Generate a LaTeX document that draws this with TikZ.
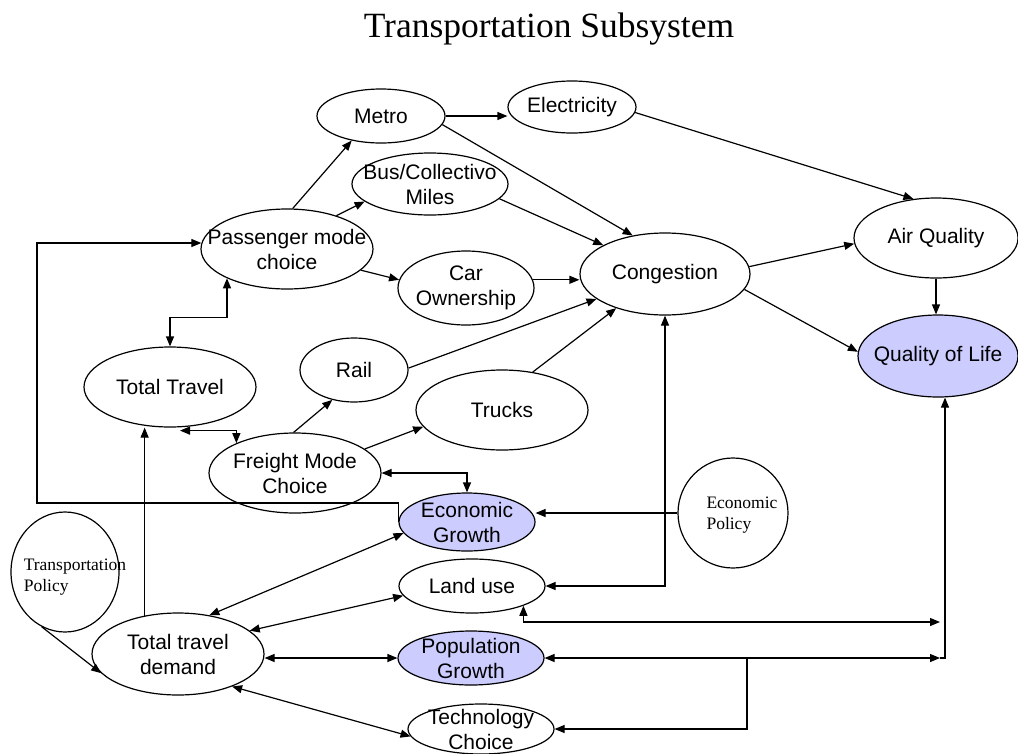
\documentclass[tikz,border=0pt]{standalone}
\usepackage{fontspec}
\setmainfont{Liberation Serif}
\setsansfont{Liberation Sans}
\usetikzlibrary{shapes.geometric,arrows.meta,calc}
\definecolor{lav}{HTML}{CCCCFF}
\tikzset{
  bub/.style 2 args={ellipse, draw, line width=1.2pt, inner sep=0pt, minimum width=#1, minimum height=#2},
  txt/.style={font=\sffamily\fontsize{21}{25}\selectfont, align=center, inner sep=0pt},
  ptxt/.style={font=\rmfamily\fontsize{17.5}{21}\selectfont, align=left, inner sep=0pt},
  arr/.style={draw, line width=1.2pt, -{Triangle[length=10pt,width=8pt]}},
  dbl/.style={draw, line width=1.2pt, {Triangle[length=10pt,width=8pt]}-{Triangle[length=10pt,width=8pt]}},
}
\begin{document}
\begin{tikzpicture}[x=1pt,y=-1pt]
\useasboundingbox (0,0) rectangle (1018,753);
\node[font=\rmfamily\fontsize{35.5}{40}\selectfont, anchor=base, inner sep=0pt] (title) at (549,37) {Transportation Subsystem};

\node[bub={128pt}{54pt}] (metro) at (381,116) {};
\node[txt] (metroT) at (metro) {Metro};
\node[bub={128pt}{52pt}] (elec) at (572,107) {};
\node[txt] (elecT) at (elec) {Electricity};
\node[bub={156pt}{62pt}] (bus) at (430,184) {};
\node[txt] (busT) at (bus) {Bus/Collectivo\\Miles};
\node[bub={172pt}{80pt}] (pass) at (287,249) {};
\node[txt] (passT) at (pass) {Passenger mode\\choice};
\node[bub={136pt}{74pt}] (car) at (466,288) {};
\node[txt] (carT) at (car) {Car\\Ownership};
\node[bub={170pt}{82pt}] (cong) at (665,274) {};
\node[txt] (congT) at (cong) {Congestion};
\node[bub={164pt}{80pt}] (air) at (936,238) {};
\node[txt] (airT) at (air) {Air Quality};
\node[bub={160pt}{82pt}, fill=lav] (qol) at (938,356) {};
\node[txt] (qolT) at (qol) {Quality of Life};
\node[bub={108pt}{64pt}] (rail) at (354,370) {};
\node[txt] (railT) at (rail) {Rail};
\node[bub={172pt}{80pt}] (trucks) at (502,410) {};
\node[txt] (trucksT) at (trucks) {Trucks};
\node[bub={172pt}{80pt}] (ttravel) at (170,387) {};
\node[txt] (ttravelT) at (ttravel) {Total Travel};
\node[bub={172pt}{80pt}] (freight) at (295,473) {};
\node[txt] (freightT) at (freight) {Freight Mode\\Choice};
\node[bub={136pt}{58pt}, fill=lav] (egrowth) at (467,522) {};
\node[txt] (egrowthT) at (egrowth) {Economic\\Growth};
\node[bub={110pt}{110pt}] (epol) at (733,513) {};
\node[ptxt] (epolT) at (742,515) {Economic\\Policy};
\node[bub={146pt}{54pt}] (land) at (472,586) {};
\node[txt] (landT) at (land) {Land use};
\node[bub={146pt}{54pt}, fill=lav] (pop) at (471,658) {};
\node[txt] (popT) at (pop) {Population\\Growth};
\node[bub={146pt}{50pt}] (tech) at (481,729) {};
\node[txt] (techT) at (tech) {Technology\\Choice};
\node[bub={108pt}{120pt}] (tpol) at (65,572) {};
\node[ptxt] (tpolT) at (75,577) {Transportation\\Policy};
\node[bub={172pt}{82pt}] (demand) at (178,654) {};
\node[txt] (demandT) at (demand) {Total travel\\demand};

\coordinate (loop) at (37,503);
\coordinate (lq) at (940,622);
\coordinate (pq) at (940,658);
\coordinate (qv) at (945,658);
\coordinate (tb) at (747,658);

% top part
\draw[arr] (metro.east) -- (metro.east -| elec.west);
\draw[arr] (metro.-8) -- (cong.130);
\draw[arr] (elec.-5) -- (air.120);
\draw[arr] (pass.82) -- (metro.220);
\draw[arr] (pass.34) -- (bus.195);
\draw[arr] (bus.-12) -- (cong.155);
\draw[arr] (pass.-16) -- (car.173);
\draw[arr] (car.7) -- (car.7 -| cong.west);
\draw[arr] (rail.2) -- (cong.200);
\draw[arr] (trucks.51) -- (cong.215);
\draw[arr] (cong.5) -- (air.184);
\draw[arr] (cong.-11) -- (qol.177);
\draw[arr] (air.south) -- (air.south |- qol.north);

% left part
\draw[dbl] (pass.206) -- ++(0,39) -| (ttravel.north);
\draw[dbl] ($(ttravel.south)+(10,3)$) -| (freight.153);
\draw[arr] (demand.131) -- (demand.131 |- ttravel.south);
\draw[arr] (freight.92) -- (rail.234);
\draw[arr] (freight.19) -- (trucks.192);
\draw[dbl] (freight.east) -| (egrowth.north);
\draw[arr] (egrowth.west) |- (loop) |- (pass.176);
\draw[arr] (epol.west) -- (epol.west -| egrowth.east);
\draw[dbl] (land.east) -| (cong.south);

% bottom part
\draw[dbl] (land.-21) |- (lq);
\draw[dbl] (pop.east) -- (pq);
\draw[arr] (pq) -- (qv) -- (qv |- qol.south);
\draw[arr] (tb) |- (tech.east);
\draw[dbl] (demand.51) -- (egrowth.190);
\draw[dbl] (demand.18) -- (land.188);
\draw[dbl] (pop.west -| demand.east) -- (pop.west);
\draw[dbl] (demand.-31) -- (tech.186);
\draw[arr] (tpol.247) -- (demand.194);
\end{tikzpicture}
\end{document}
